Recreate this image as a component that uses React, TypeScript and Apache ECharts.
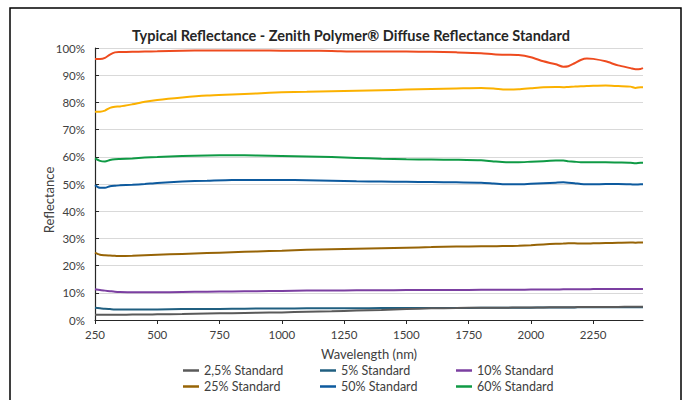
import React, { useEffect, useRef } from "react";
import * as echarts from "echarts";

const wavelengths = [250, 270, 290, 310, 330, 350, 400, 450, 500, 600, 700, 800, 900, 1000, 1100, 1200, 1300, 1400, 1500, 1600, 1700, 1800, 1850, 1900, 1950, 2000, 2050, 2100, 2130, 2150, 2175, 2200, 2225, 2250, 2300, 2350, 2400, 2420, 2440, 2450];

const std99 = [96.0, 96.0, 96.4, 97.6, 98.4, 98.5, 98.6, 98.7, 98.8, 99.0, 99.1, 99.1, 99.1, 99.0, 99.0, 98.9, 98.7, 98.7, 98.7, 98.6, 98.4, 98.1, 97.7, 97.5, 97.4, 96.6, 95.1, 94.0, 93.1, 93.3, 94.4, 95.6, 96.1, 96.0, 95.1, 93.6, 92.6, 92.2, 92.3, 92.6];
const std80 = [76.6, 76.6, 77.0, 78.0, 78.4, 78.5, 79.3, 80.2, 80.9, 81.8, 82.5, 82.9, 83.3, 83.7, 83.9, 84.1, 84.3, 84.5, 84.7, 84.9, 85.1, 85.3, 85.1, 84.7, 84.8, 85.2, 85.6, 85.7, 85.6, 85.7, 85.8, 85.9, 86.0, 86.1, 86.2, 86.0, 85.8, 85.3, 85.6, 85.6];
const std60 = [59.4, 58.5, 58.3, 58.8, 59.1, 59.2, 59.4, 59.7, 59.9, 60.3, 60.5, 60.6, 60.5, 60.3, 60.1, 59.9, 59.6, 59.3, 59.1, 59.0, 58.9, 58.7, 58.3, 58.0, 58.0, 58.2, 58.4, 58.6, 58.6, 58.4, 58.2, 58.0, 58.0, 58.0, 58.0, 57.9, 57.8, 57.6, 57.8, 57.8];
const std50 = [49.6, 48.6, 48.6, 49.2, 49.4, 49.5, 49.7, 50.0, 50.4, 50.9, 51.2, 51.5, 51.5, 51.5, 51.4, 51.2, 51.0, 50.9, 50.8, 50.7, 50.6, 50.5, 50.2, 49.9, 49.9, 50.1, 50.3, 50.5, 50.6, 50.5, 50.3, 50.0, 49.9, 49.9, 50.0, 50.0, 49.9, 49.8, 49.9, 49.9];
const std25 = [24.8, 24.0, 23.8, 23.7, 23.6, 23.5, 23.6, 23.8, 24.0, 24.3, 24.6, 24.9, 25.2, 25.5, 25.8, 26.0, 26.2, 26.4, 26.6, 26.8, 27.0, 27.1, 27.1, 27.2, 27.3, 27.5, 27.8, 28.0, 28.1, 28.2, 28.2, 28.1, 28.1, 28.2, 28.3, 28.4, 28.5, 28.4, 28.5, 28.5];
const std10 = [11.3, 11.0, 10.8, 10.6, 10.4, 10.3, 10.2, 10.2, 10.2, 10.3, 10.4, 10.5, 10.6, 10.7, 10.8, 10.8, 10.9, 10.9, 11.0, 11.0, 11.0, 11.1, 11.1, 11.1, 11.1, 11.2, 11.2, 11.2, 11.3, 11.3, 11.3, 11.3, 11.3, 11.4, 11.4, 11.4, 11.4, 11.4, 11.4, 11.4];
const std5 = [4.5, 4.3, 4.1, 4.0, 3.9, 3.9, 3.9, 3.9, 3.9, 4.0, 4.0, 4.1, 4.2, 4.2, 4.3, 4.3, 4.3, 4.4, 4.4, 4.4, 4.4, 4.5, 4.5, 4.5, 4.5, 4.5, 4.6, 4.6, 4.6, 4.6, 4.6, 4.7, 4.7, 4.7, 4.7, 4.7, 4.7, 4.7, 4.7, 4.7];
const std2_5 = [1.9, 1.9, 1.9, 1.9, 1.9, 1.9, 2.0, 2.0, 2.1, 2.2, 2.4, 2.5, 2.7, 2.8, 3.0, 3.2, 3.5, 3.7, 4.0, 4.3, 4.4, 4.5, 4.5, 4.5, 4.6, 4.6, 4.6, 4.7, 4.7, 4.7, 4.7, 4.8, 4.8, 4.8, 4.8, 4.8, 4.9, 4.9, 4.9, 4.9];

const xTicks = [250, 500, 750, 1000, 1250, 1500, 1750, 2000, 2250];

const seriesDefs = [
  { name: "99% Standard", data: std99, color: "#ee4b1f" },
  { name: "80% Standard", data: std80, color: "#fbb100" },
  { name: "60% Standard", data: std60, color: "#0f9a45" },
  { name: "50% Standard", data: std50, color: "#0d5a9e" },
  { name: "25% Standard", data: std25, color: "#976406" },
  { name: "10% Standard", data: std10, color: "#7b3fa1" },
  { name: "5% Standard", data: std5, color: "#205f80" },
  { name: "2,5% Standard", data: std2_5, color: "#5a5a5a" },
];

// legend layout: [name, left, top]
const legendItems: [string, number, number][] = [
  ["2,5% Standard", 183, 364],
  ["5% Standard", 320, 364],
  ["10% Standard", 456, 364],
  ["25% Standard", 183, 380],
  ["50% Standard", 320, 380],
  ["60% Standard", 456, 380],
];

const FONT = "Lato";

export default function App() {
  const ref = useRef<HTMLDivElement>(null);
  useEffect(() => {
    if (!ref.current) return;
    const chart = echarts.init(ref.current, undefined, { renderer: "svg" });
    chart.setOption({
      animation: false,
      backgroundColor: "#ffffff",
      title: {
        text: "Typical Reflectance - Zenith Polymer® Diffuse Reflectance Standard",
        left: 346,
        textAlign: "center",
        top: 23,
        textStyle: { fontFamily: FONT, fontSize: 14.5, fontWeight: "bold", color: "#262626" },
      },
      legend: legendItems.map(([name, left, top]) => ({
        left,
        top,
        data: [name],
        icon: "rect",
        itemWidth: 16,
        itemHeight: 2.5,
        padding: 0,
        textStyle: { fontFamily: FONT, fontSize: 12.5, color: "#404040" },
      })),
      grid: { left: 95, right: 44, top: 48, bottom: 80 },
      xAxis: {
        type: "value",
        min: 250,
        max: 2450,
        interval: 250,
        name: "Wavelength (nm)",
        nameLocation: "middle",
        nameGap: 27,
        nameTextStyle: { fontFamily: FONT, fontSize: 13, color: "#404040" },
        axisLine: { show: true, lineStyle: { color: "#262626", width: 1.2 } },
        axisTick: { show: true, length: 4, customValues: xTicks, lineStyle: { color: "#262626" } },
        axisLabel: {
          customValues: xTicks,
          formatter: (v: number) => String(v),
          fontFamily: FONT,
          fontSize: 11.5,
          color: "#404040",
          margin: 8,
        },
        splitLine: { show: false },
      },
      yAxis: {
        type: "value",
        min: 0,
        max: 100,
        interval: 10,
        axisLine: { show: true, lineStyle: { color: "#262626", width: 1.2 } },
        axisTick: { show: true, inside: true, length: 4, lineStyle: { color: "#262626" } },
        axisLabel: { formatter: "{value}%", fontFamily: FONT, fontSize: 11.5, color: "#404040", margin: 10 },
        splitLine: { show: true, lineStyle: { color: "#d9d9d9", width: 1 } },
      },
      series: seriesDefs.map((s) => ({
        name: s.name,
        type: "line",
        data: wavelengths.map((w, i) => [w, s.data[i]]),
        showSymbol: false,
        symbol: "none",
        smooth: 0.25,
        lineStyle: { color: s.color, width: 2 },
        itemStyle: { color: s.color },
      })),
      graphic: [
        {
          type: "rect",
          shape: { x: 10, y: 8, width: 671, height: 400 },
          style: { fill: "none", stroke: "#000000", lineWidth: 1.5 },
          silent: true,
        },
        {
          type: "text",
          x: 49,
          y: 200,
          rotation: Math.PI / 2,
          style: {
            text: "Reflectance",
            fontFamily: FONT,
            fontSize: 13,
            fill: "#404040",
            align: "center",
            verticalAlign: "middle",
          },
          silent: true,
        },
      ],
    });
    return () => chart.dispose();
  }, []);
  return <div ref={ref} style={{ width: 687, height: 400, position: "absolute", left: 0, top: 0 }} />;
}
